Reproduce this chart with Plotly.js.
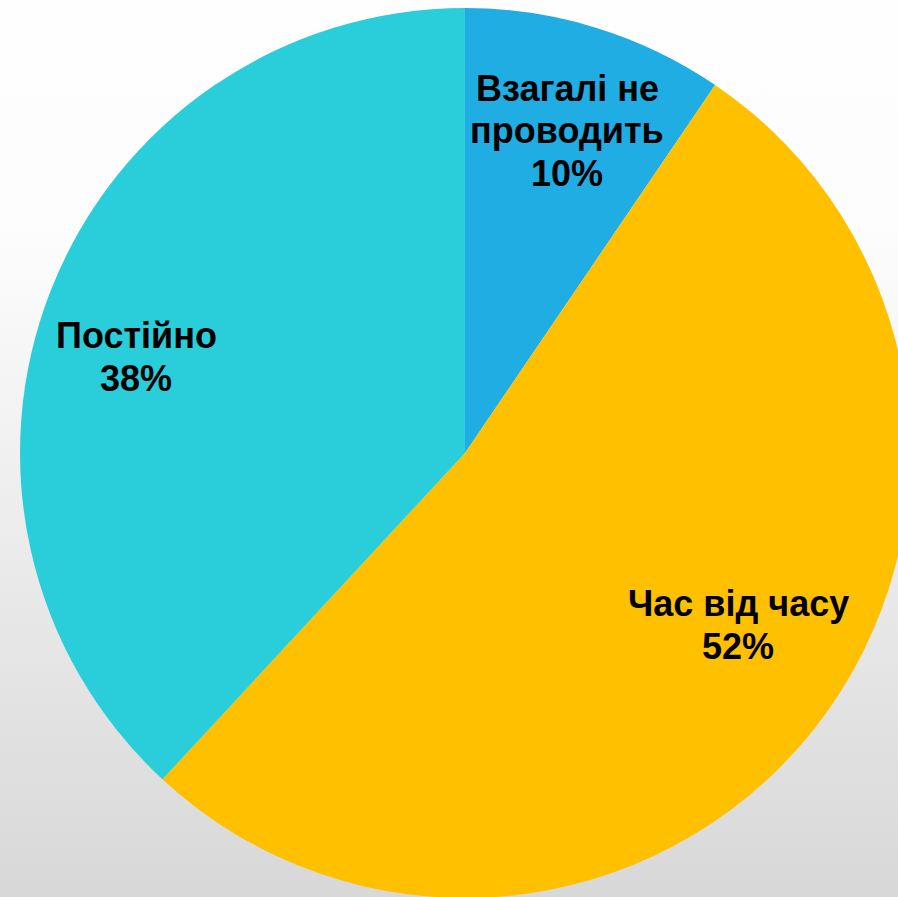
<!DOCTYPE html>
<html>
<head>
<meta charset="utf-8">
<script src="https://cdn.plot.ly/plotly-3.0.1.min.js"></script>
<style>
  html, body { margin: 0; padding: 0; width: 898px; height: 897px; overflow: hidden;
    background: linear-gradient(to bottom, #fefefe 0%, #fdfdfd 25%, #d8d8d8 100%); }
  #chart { width: 930px; height: 906px; }
</style>
</head>
<body>
<div id="chart"></div>
<script>
const categories = ["Взагалі не<br>проводить", "Час від часу", "Постійно"];
const values = [9.5, 52.4, 38.1];
const colors = ["#1FADE3", "#FFC000", "#29CEDA"];

const W = 930, H = 906;
// label block centres in pixels (layout only)
const labelPos = [[567, 131], [738, 625], [136, 357]];
const lineGap = 43;

const total = values.reduce((a, b) => a + b, 0);
const annotations = [];
categories.forEach((c, i) => {
  const lines = c.split("<br>").concat([Math.round(values[i] / total * 100) + "%"]);
  lines.forEach((t, k) => {
    const py = labelPos[i][1] + (k - (lines.length - 1) / 2) * lineGap;
    annotations.push({
      text: "<b>" + t + "</b>",
      x: labelPos[i][0] / W, y: 1 - py / H,
      xref: "paper", yref: "paper", xanchor: "center", yanchor: "middle",
      showarrow: false, align: "center",
      font: { family: "Liberation Sans, Arial, sans-serif", size: 36, color: "#000000" }
    });
  });
});

Plotly.newPlot("chart", [{
  type: "pie",
  labels: categories,
  values: values,
  sort: false,
  direction: "clockwise",
  rotation: 0,
  marker: { colors: colors, line: { width: 0 } },
  textinfo: "none",
  hoverinfo: "skip",
  domain: { x: [0, 1], y: [8 / H, 898 / H] }
}], {
  width: W, height: H,
  margin: { l: 0, r: 0, t: 0, b: 0, pad: 0 },
  paper_bgcolor: "rgba(0,0,0,0)",
  plot_bgcolor: "rgba(0,0,0,0)",
  showlegend: false,
  annotations: annotations
}, { displayModeBar: false, staticPlot: true });
</script>
</body>
</html>
